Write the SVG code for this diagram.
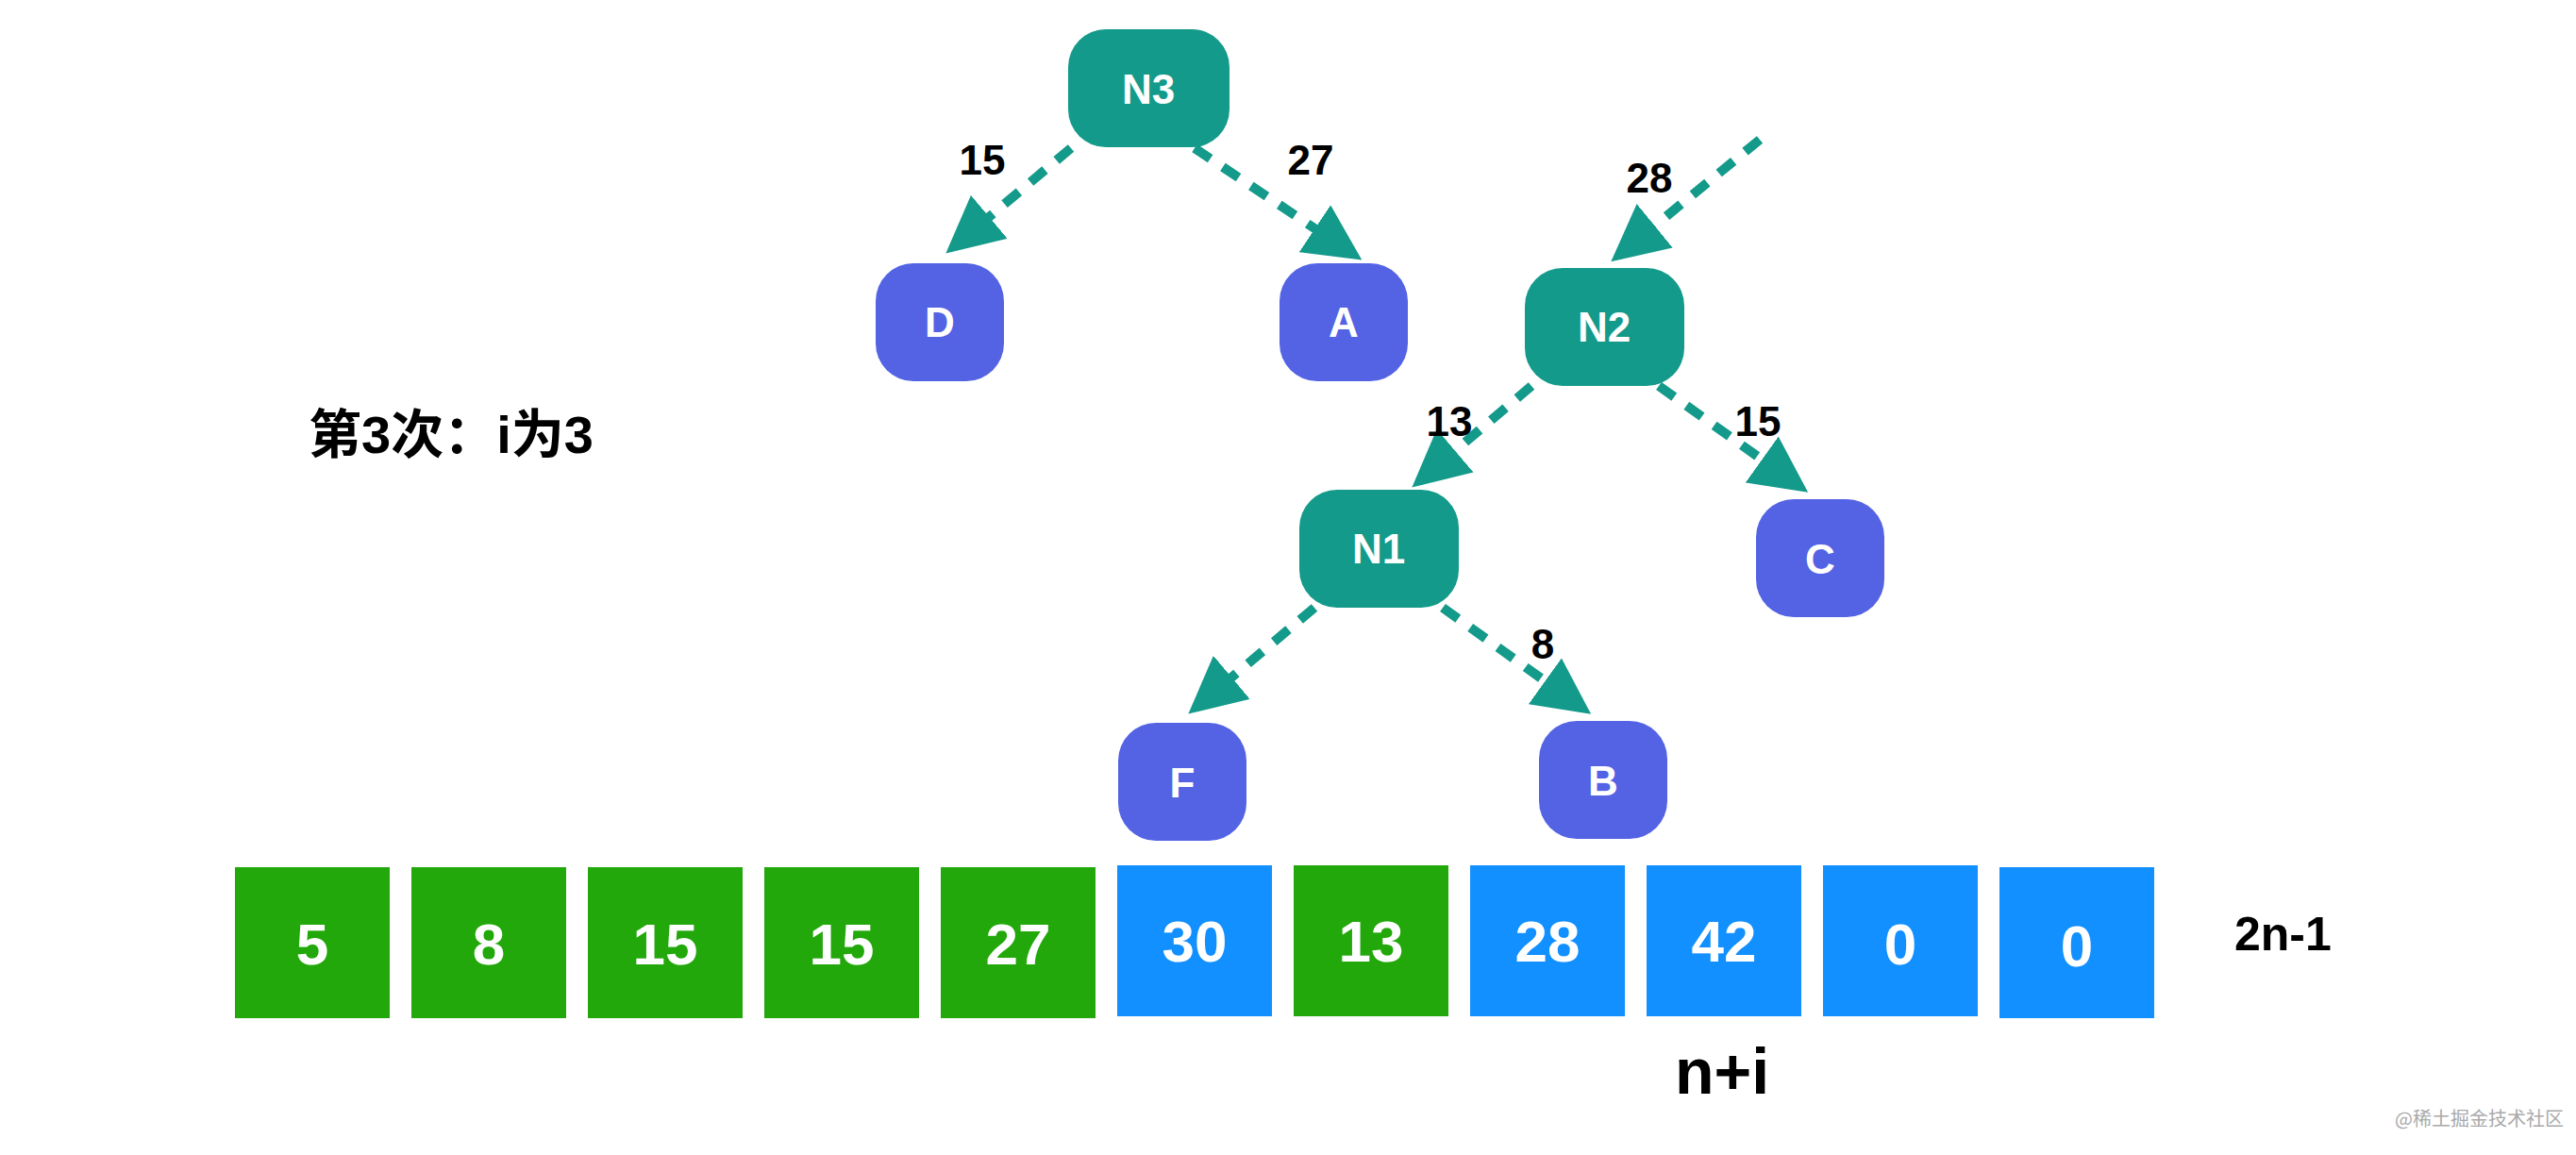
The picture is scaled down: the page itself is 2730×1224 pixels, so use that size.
<svg xmlns="http://www.w3.org/2000/svg" width="2730" height="1224" viewBox="0 0 2730 1224">
<style>
.t{fill:#149a8a}.l{fill:#5363e4}
.nt{font-family:"Liberation Sans",Arial,sans-serif;font-weight:bold;font-size:44px;fill:#fff;text-anchor:middle;dominant-baseline:central}
.el{font-family:"Liberation Sans",Arial,sans-serif;font-weight:bold;font-size:44px;fill:#000;text-anchor:middle;dominant-baseline:central}
.e{stroke:#149a8a;stroke-width:10;stroke-dasharray:20 16;fill:none;marker-end:url(#ah)}
.g{fill:#22a80a}.b{fill:#1290ff}
.ct{font-family:"Liberation Sans",Arial,sans-serif;font-weight:bold;font-size:62px;fill:#fff;text-anchor:middle;dominant-baseline:central}
</style>
<defs><marker id="ah" markerWidth="6" markerHeight="6" refX="5" refY="3" orient="auto" markerUnits="strokeWidth"><path d="M0,0 L6,3 L0,6 z" fill="#149a8a"/></marker></defs>
<rect width="2730" height="1224" fill="#fff"/>
<g id="connectors">
<path class="e" d="M1135,157 L1010,262"/><text class="el" x="1041" y="169">15</text>
<path class="e" d="M1266,157 L1435,270"/><text class="el" x="1389" y="169">27</text>
<path class="e" d="M1865,148 L1715,271"/><text class="el" x="1748" y="188">28</text>
<path class="e" d="M1623,409 L1504,510"/><text class="el" x="1536" y="446">13</text>
<path class="e" d="M1758,409 L1908,516"/><text class="el" x="1863" y="446">15</text>
<path class="e" d="M1393,644 L1267,750"/>
<path class="e" d="M1529,644 L1678,751"/><text class="el" x="1635" y="682">8</text>
</g>
<g id="N3"><rect class="t" x="1132" y="31" width="171" height="125" rx="40"/><text class="nt" x="1217" y="94">N3</text></g>
<g id="D"><rect class="l" x="928" y="279" width="136" height="125" rx="40"/><text class="nt" x="996" y="341">D</text></g>
<g id="A"><rect class="l" x="1356" y="279" width="136" height="125" rx="40"/><text class="nt" x="1424" y="341">A</text></g>
<g id="N2"><rect class="t" x="1616" y="284" width="169" height="125" rx="40"/><text class="nt" x="1700" y="346">N2</text></g>
<g id="C"><rect class="l" x="1861" y="529" width="136" height="125" rx="40"/><text class="nt" x="1929" y="592">C</text></g>
<g id="N1"><rect class="t" x="1377" y="519" width="169" height="125" rx="40"/><text class="nt" x="1461" y="581">N1</text></g>
<g id="F"><rect class="l" x="1185" y="766" width="136" height="125" rx="40"/><text class="nt" x="1253" y="829">F</text></g>
<g id="B"><rect class="l" x="1631" y="764" width="136" height="125" rx="40"/><text class="nt" x="1699" y="827">B</text></g>
<g id="array">
<rect class="g" x="249" y="919" width="164" height="160"/><text class="ct" x="331" y="1000">5</text>
<rect class="g" x="436" y="919" width="164" height="160"/><text class="ct" x="518" y="1000">8</text>
<rect class="g" x="623" y="919" width="164" height="160"/><text class="ct" x="705" y="1000">15</text>
<rect class="g" x="810" y="919" width="164" height="160"/><text class="ct" x="892" y="1000">15</text>
<rect class="g" x="997" y="919" width="164" height="160"/><text class="ct" x="1079" y="1000">27</text>
<rect class="b" x="1184" y="917" width="164" height="160"/><text class="ct" x="1266" y="997">30</text>
<rect class="g" x="1371" y="917" width="164" height="160"/><text class="ct" x="1453" y="997">13</text>
<rect class="b" x="1558" y="917" width="164" height="160"/><text class="ct" x="1640" y="997">28</text>
<rect class="b" x="1745" y="917" width="164" height="160"/><text class="ct" x="1827" y="997">42</text>
<rect class="b" x="1932" y="917" width="164" height="160"/><text class="ct" x="2014" y="1000">0</text>
<rect class="b" x="2119" y="919" width="164" height="160"/><text class="ct" x="2201" y="1002">0</text>
</g>
<text x="327" y="460" font-family="'Liberation Sans','Noto Sans CJK SC',sans-serif" font-weight="bold" font-size="56" dominant-baseline="central">第3次：i为3</text>
<text x="2368" y="990" font-family="'Liberation Sans',sans-serif" font-weight="bold" font-size="50" dominant-baseline="central">2n-1</text>
<text x="1825" y="1135" font-family="'Liberation Sans',sans-serif" font-weight="bold" font-size="68" text-anchor="middle" dominant-baseline="central">n+i</text>
<text x="2538" y="1184" font-family="'Noto Sans CJK SC',sans-serif" font-size="20" fill="#aaa" dominant-baseline="central">@稀土掘金技术社区</text>
</svg>
